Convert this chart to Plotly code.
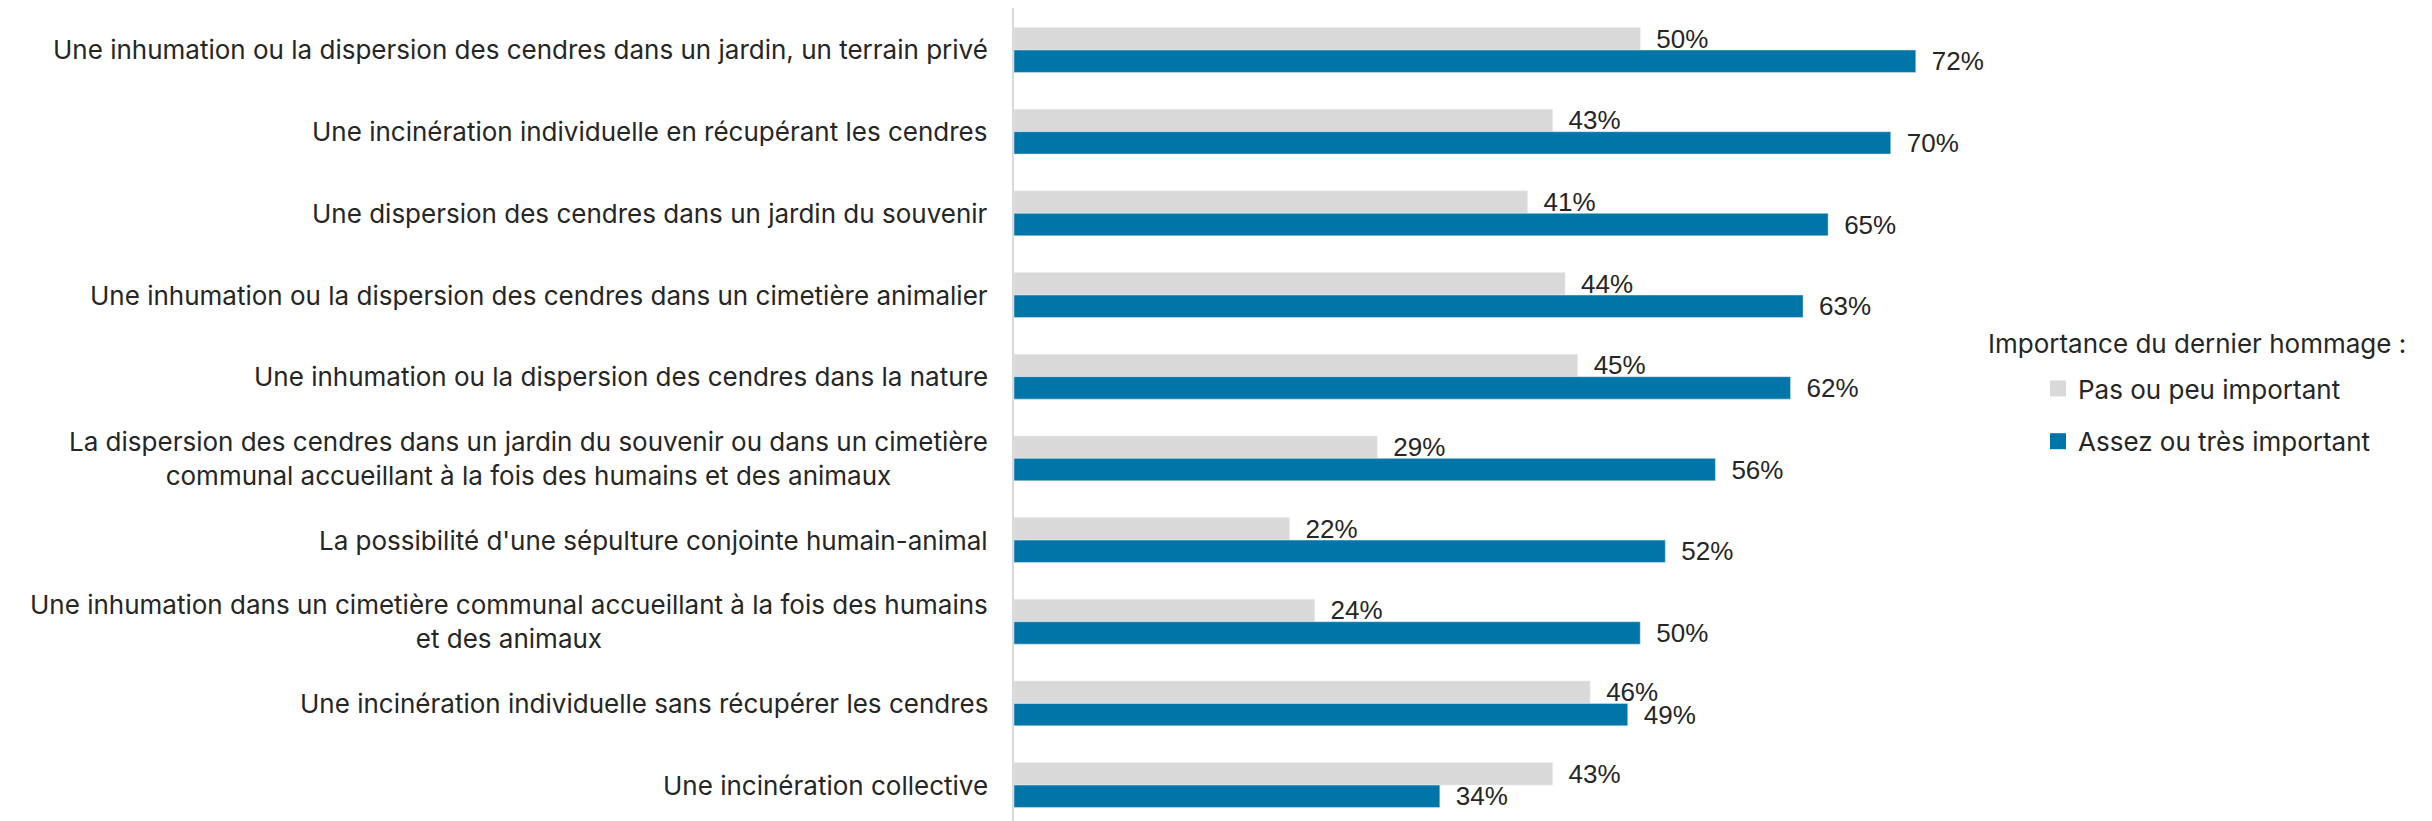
import plotly.graph_objects as go

categories = [
    "Une inhumation ou la dispersion des cendres dans un jardin, un terrain privé",
    "Une incinération individuelle en récupérant les cendres",
    "Une dispersion des cendres dans un jardin du souvenir",
    "Une inhumation ou la dispersion des cendres dans un cimetière animalier",
    "Une inhumation ou la dispersion des cendres dans la nature",
    "La dispersion des cendres dans un jardin du souvenir ou dans un cimetière<br>communal accueillant à la fois des humains et des animaux",
    "La possibilité d'une sépulture conjointe humain-animal",
    "Une inhumation dans un cimetière communal accueillant à la fois des humains<br>et des animaux",
    "Une incinération individuelle sans récupérer les cendres",
    "Une incinération collective",
]
pas_important = [50, 43, 41, 44, 45, 29, 22, 24, 46, 43]
tres_important = [72, 70, 65, 63, 62, 56, 52, 50, 49, 34]

series_names = ["Pas ou peu important", "Assez ou très important"]
legend_title = "Importance du dernier hommage :"

GRAY = "#d9d9d9"
BLUE = "#0076a8"
TEXT = "#262626"
LABEL_FONT = "Inter, Open Sans, Liberation Sans, sans-serif"
VALUE_FONT = "Liberation Sans, Arial, sans-serif"

# the page body adds 8px around the figure, so work in figure pixels
W, H = 2432, 821
L, R, T, B = 1006, 424, 0, 8

fig = go.Figure()

for name, values, color in [
    (series_names[0], pas_important, GRAY),
    (series_names[1], tres_important, BLUE),
]:
    fig.add_trace(
        go.Bar(
            x=values,
            y=categories,
            orientation="h",
            name=name,
            marker=dict(color=color),
            text=[f"\u2002{v}%" for v in values],
            textposition="outside",
            constraintext="none",
            cliponaxis=False,
            textfont=dict(family=VALUE_FONT, size=26, color=TEXT),
            showlegend=False,
        )
    )
    # legend entry with a bigger square than the default bar icon
    fig.add_trace(
        go.Scatter(
            x=[None],
            y=[None],
            mode="markers",
            name=name,
            legendgroup=name,
            marker=dict(symbol="square", size=16, color=color),
        )
    )

for cat in categories:
    fig.add_annotation(
        x=0, xref="paper", xanchor="right", xshift=-24,
        y=cat, yref="y", yanchor="middle",
        text=cat, align="center", showarrow=False,
        font=dict(family=LABEL_FONT, size=26, color=TEXT),
    )

plot_w = W - L - R
plot_h = H - T - B
fig.add_annotation(
    x=(1978 - L) / plot_w, xref="paper",
    y=1 - (335 - T) / plot_h, yref="paper",
    text=legend_title, showarrow=False,
    xanchor="left", yanchor="middle",
    font=dict(family=LABEL_FONT, size=26, color=TEXT),
)

fig.update_layout(
    width=W,
    height=H,
    margin=dict(l=L, r=R, t=T, b=B),
    paper_bgcolor="white",
    plot_bgcolor="white",
    barmode="group",
    bargap=0.45,
    bargroupgap=0,
    xaxis=dict(range=[0, 80], visible=False),
    yaxis=dict(
        categoryorder="array",
        categoryarray=categories,
        range=[9.44, -0.514],
        showticklabels=False,
        showgrid=False,
        zeroline=False,
        showline=True,
        linecolor=GRAY,
        linewidth=2,
        ticks="",
    ),
    legend=dict(
        xref="container", yref="container",
        x=2030 / W, y=1 - 357 / H,
        xanchor="left", yanchor="top",
        font=dict(family=LABEL_FONT, size=26, color=TEXT),
        traceorder="grouped",
        tracegroupgap=16,
        bgcolor="rgba(0,0,0,0)",
    ),
)

fig.write_html("out.html")
